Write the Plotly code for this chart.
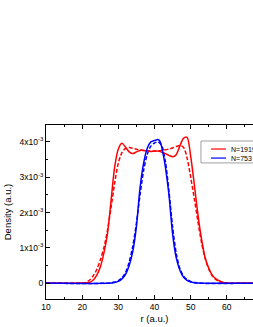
import plotly.graph_objects as go

# Density in units of 1e-3 (a.u.)
r_red_solid = [10, 20, 22, 23, 24, 25, 26, 27, 28, 29, 30, 31, 32, 33, 34, 35, 36, 37, 38, 39, 40, 41, 42, 43, 44, 45, 46, 47, 48, 49, 50, 51, 52, 53, 54, 55, 56, 57, 58, 59, 60, 70]
d_red_solid = [0, 0, 0.02, 0.08, 0.22, 0.45, 0.85, 1.4, 2.35, 3.3, 3.8, 3.96, 3.85, 3.72, 3.67, 3.72, 3.76, 3.76, 3.74, 3.73, 3.74, 3.74, 3.71, 3.67, 3.62, 3.58, 3.64, 3.88, 4.1, 4.13, 3.6, 2.8, 1.95, 1.25, 0.72, 0.42, 0.22, 0.12, 0.06, 0.02, 0, 0]

r_red_dash = [10, 20, 21, 22, 23, 24, 25, 26, 27, 28, 29, 30, 31, 32, 33, 34, 35, 36, 38, 40, 42, 44, 45, 46, 47, 48, 49, 50, 51, 52, 53, 54, 55, 56, 57, 58, 59, 60, 70]
d_red_dash = [0, 0, 0.02, 0.08, 0.2, 0.38, 0.65, 1.0, 1.5, 2.15, 2.85, 3.4, 3.7, 3.82, 3.84, 3.82, 3.79, 3.77, 3.75, 3.74, 3.76, 3.8, 3.83, 3.87, 3.9, 3.85, 3.55, 3.0, 2.4, 1.75, 1.15, 0.7, 0.4, 0.2, 0.1, 0.04, 0.01, 0, 0]

r_blue_solid = [10, 28, 29, 30, 31, 32, 33, 34, 35, 36, 37, 38, 39, 40, 41, 41.5, 42, 42.5, 43, 44, 45, 46, 47, 48, 49, 50, 51, 52, 70]
d_blue_solid = [0, 0, 0.02, 0.05, 0.12, 0.25, 0.5, 0.9, 1.6, 2.7, 3.4, 3.82, 4.0, 4.04, 4.07, 4.02, 3.85, 3.6, 3.3, 2.5, 1.4, 0.72, 0.37, 0.17, 0.08, 0.03, 0.01, 0, 0]

r_blue_dash = [10, 28, 30, 31, 32, 33, 34, 35, 36, 37, 38, 39, 40, 41, 42, 43, 44, 45, 46, 47, 48, 49, 50, 51, 52, 70]
d_blue_dash = [0, 0.01, 0.07, 0.15, 0.3, 0.6, 1.05, 1.7, 2.5, 3.2, 3.65, 3.88, 3.97, 4.0, 3.9, 3.45, 2.6, 1.6, 0.85, 0.42, 0.2, 0.1, 0.05, 0.02, 0, 0]

series_names = ["N=1919", "N=753"]
y_tickvals = [0, 1, 2, 3, 4]
y_ticktext = ["0", "1x10<sup>-3</sup>", "2x10<sup>-3</sup>", "3x10<sup>-3</sup>", "4x10<sup>-3</sup>"]
x_tickvals = [10, 20, 30, 40, 50, 60, 70]

RED = "#ff0000"
BLUE = "#0000ff"
W = 1.5
FONT = "Liberation Sans, Arial"

fig = go.Figure()
fig.add_trace(go.Scatter(x=r_red_dash, y=d_red_dash, mode="lines", showlegend=False,
                         line=dict(color=RED, width=W, dash="4px,2px", shape="spline", smoothing=0.8)))
fig.add_trace(go.Scatter(x=r_blue_dash, y=d_blue_dash, mode="lines", showlegend=False,
                         line=dict(color=BLUE, width=W, dash="4px,2px", shape="spline", smoothing=0.8)))
fig.add_trace(go.Scatter(x=r_red_solid, y=d_red_solid, mode="lines", name=series_names[0], showlegend=False,
                         line=dict(color=RED, width=W, shape="spline", smoothing=0.8)))
fig.add_trace(go.Scatter(x=r_blue_solid, y=d_blue_solid, mode="lines", name=series_names[1], showlegend=False,
                         line=dict(color=BLUE, width=W, shape="spline", smoothing=0.8)))

axis_common = dict(showline=True, linecolor="black", linewidth=1, showgrid=False, zeroline=False,
                   ticks="inside", ticklen=4, tickcolor="black", tickwidth=1, automargin=False,
                   tickfont=dict(family=FONT, size=8.5, color="black"))

# Compact legend (box, swatches, labels) in paper coordinates
leg_x0, leg_x1, leg_y0, leg_y1 = 0.714, 1.06, 0.782, 0.908
sw_x0, sw_x1, txt_x = 0.7604, 0.8295, 0.8433
row_y = [0.862, 0.810]
shapes = [dict(type="rect", xref="paper", yref="paper", x0=leg_x0, x1=leg_x1, y0=leg_y0, y1=leg_y1,
               line=dict(color="#a0a0a0", width=1), fillcolor="white", layer="above")]
annotations = []
for name, col, yy in zip(series_names, [RED, BLUE], row_y):
    shapes.append(dict(type="line", xref="paper", yref="paper", x0=sw_x0, x1=sw_x1, y0=yy, y1=yy,
                       line=dict(color=col, width=1.2), layer="above"))
    annotations.append(dict(text=name, xref="paper", yref="paper", x=txt_x, y=yy, xanchor="left",
                            yanchor="middle", showarrow=False, font=dict(family=FONT, size=7, color="black")))

fig.update_layout(
    width=263, height=327,
    margin=dict(l=46, r=0, t=125, b=28, autoexpand=False),
    paper_bgcolor="white", plot_bgcolor="white",
    font=dict(family=FONT, size=9.5, color="black"),
    showlegend=False,
    xaxis=dict(range=[10, 70], tickvals=x_tickvals, mirror="ticks",
               minor=dict(ticks="inside", ticklen=2, dtick=5, tickcolor="black"),
               title=dict(text="r (a.u.)", font=dict(size=9.5), standoff=4),
               **axis_common),
    yaxis=dict(range=[-0.45, 4.48], tickvals=y_tickvals, ticktext=y_ticktext,
               minor=dict(ticks="inside", ticklen=2, tickvals=[0.5, 1.5, 2.5, 3.5], tickcolor="black"),
               title=dict(text="Density (a.u.)", font=dict(size=9.5), standoff=6),
               **axis_common),
    shapes=shapes,
    annotations=annotations,
)

fig.write_html("out.html", config={"displayModeBar": False},
               post_script="document.body.style.margin='0';document.body.style.overflow='hidden';")
